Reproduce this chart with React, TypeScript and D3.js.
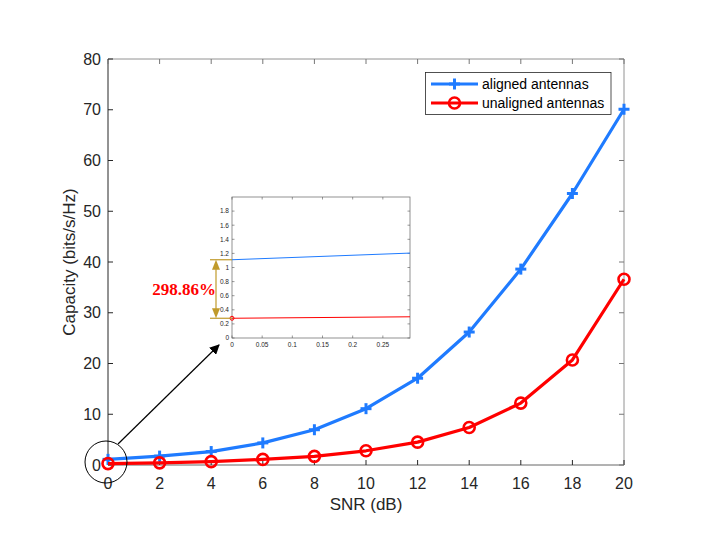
import * as d3 from "d3";

const snr = [0, 2, 4, 6, 8, 10, 12, 14, 16, 18, 20];
const aligned = [1.11, 1.75, 2.65, 4.35, 6.95, 11.1, 17.1, 26.2, 38.6, 53.5, 70.1];
const unaligned = [0.28, 0.42, 0.66, 1.1, 1.7, 2.8, 4.5, 7.4, 12.2, 20.7, 36.6];

const xTicks = [0, 2, 4, 6, 8, 10, 12, 14, 16, 18, 20];
const yTicks = [0, 10, 20, 30, 40, 50, 60, 70, 80];
const insetXTicks = [0, 0.05, 0.1, 0.15, 0.2, 0.25];
const insetYTicks = [0, 0.2, 0.4, 0.6, 0.8, 1, 1.2, 1.4, 1.6, 1.8];
const gainLabel = "298.86%";

const BLUE = "#1f7bff";
const RED = "#ff0000";
const GOLD = "#c09a2a";
const AXIS = "#262626";
const FONT = "'Liberation Sans', Arial, sans-serif";

export default function App() {
  const width = 708;
  const height = 542;
  const m = { left: 108, right: 624, top: 59, bottom: 465 };

  const x = d3.scaleLinear().domain([0, 20]).range([m.left, m.right]);
  const y = d3.scaleLinear().domain([0, 80]).range([m.bottom, m.top]);

  // inset axes
  const ib = { left: 232, right: 410, top: 197, bottom: 338 };
  const ix = d3.scaleLinear().domain([0, 0.295]).range([ib.left, ib.right]);
  const iy = d3.scaleLinear().domain([0, 2]).range([ib.bottom, ib.top]);

  const pts = (vals: number[]) => snr.map((s, i) => [s, vals[i]] as [number, number]);

  const line = d3
    .line<[number, number]>()
    .x((d) => x(d[0]))
    .y((d) => y(d[1]));
  const iline = d3
    .line<[number, number]>()
    .x((d) => ix(d[0]))
    .y((d) => iy(d[1]));

  const tick = 5;
  const itick = 2.5;

  // annotation positions from inset data
  const yA = iy(aligned[0]);
  const yU = iy(unaligned[0]);
  const arrX = 216;

  return (
    <svg
      width={width}
      height={height}
      style={{ position: "absolute", left: 0, top: 0, background: "#fff" }}
      fontFamily={FONT}
    >
      <defs>
        <clipPath id="inset-clip">
          <rect x={ib.left} y={ib.top} width={ib.right - ib.left} height={ib.bottom - ib.top} />
        </clipPath>
        <marker id="blackhead" viewBox="0 0 10 10" refX="9" refY="5" markerWidth="10" markerHeight="10" markerUnits="userSpaceOnUse" orient="auto">
          <path d="M0,0 L10,5 L0,10 z" fill="#000" />
        </marker>
      </defs>

      {/* main plot frame */}
      <rect x={m.left} y={m.top} width={m.right - m.left} height={m.bottom - m.top} fill="#fff" />
      <line x1={m.left} x2={m.right} y1={m.top} y2={m.top} stroke="#777" strokeWidth={0.8} />
      <line x1={m.right} x2={m.right} y1={m.top} y2={m.bottom} stroke="#777" strokeWidth={0.8} />
      <line x1={m.left} x2={m.right} y1={m.bottom} y2={m.bottom} stroke="#666" strokeWidth={1} />
      <line x1={m.left} x2={m.left} y1={m.top} y2={m.bottom} stroke={AXIS} strokeWidth={1} />

      {xTicks.map((t) => (
        <g key={"xt" + t}>
          <line x1={x(t)} x2={x(t)} y1={m.bottom} y2={m.bottom - tick} stroke={AXIS} />
          <line x1={x(t)} x2={x(t)} y1={m.top} y2={m.top + tick} stroke="#777" />
          <text x={x(t)} y={489} textAnchor="middle" fontSize={16} fill={AXIS}>
            {t}
          </text>
        </g>
      ))}
      {yTicks.map((t) => (
        <g key={"yt" + t}>
          <line x1={m.left} x2={m.left + tick} y1={y(t)} y2={y(t)} stroke={AXIS} />
          <line x1={m.right} x2={m.right - tick} y1={y(t)} y2={y(t)} stroke="#777" />
          <text x={101} y={y(t) + 5.6} textAnchor="end" fontSize={16} fill={AXIS}>
            {t}
          </text>
        </g>
      ))}

      <text x={366} y={510} textAnchor="middle" fontSize={17} fill={AXIS}>
        SNR (dB)
      </text>
      <text
        transform={`translate(75,${(m.top + m.bottom) / 2}) rotate(-90)`}
        textAnchor="middle"
        fontSize={17}
        fill={AXIS}
      >
        Capacity (bits/s/Hz)
      </text>

      {/* series */}
      <path d={line(pts(aligned)) ?? ""} fill="none" stroke={BLUE} strokeWidth={3.2} strokeLinejoin="round" />
      {pts(aligned).map((d, i) => (
        <g key={"pa" + i} stroke={BLUE} strokeWidth={3}>
          <line x1={x(d[0]) - 5.5} x2={x(d[0]) + 5.5} y1={y(d[1])} y2={y(d[1])} />
          <line x1={x(d[0])} x2={x(d[0])} y1={y(d[1]) - 5.5} y2={y(d[1]) + 5.5} />
        </g>
      ))}
      <path d={line(pts(unaligned)) ?? ""} fill="none" stroke={RED} strokeWidth={3.2} strokeLinejoin="round" />
      {pts(unaligned).map((d, i) => (
        <circle key={"pu" + i} cx={x(d[0])} cy={y(d[1])} r={5.5} fill="none" stroke={RED} strokeWidth={2.6} />
      ))}

      {/* legend */}
      <rect x={425.5} y={72.5} width={185.5} height={42} fill="#fff" stroke={AXIS} strokeWidth={0.8} />
      <line x1={431} x2={478} y1={84} y2={84} stroke={BLUE} strokeWidth={3.2} />
      <line x1={449} x2={460} y1={84} y2={84} stroke={BLUE} strokeWidth={3} />
      <line x1={454.5} x2={454.5} y1={78.5} y2={89.5} stroke={BLUE} strokeWidth={3} />
      <text x={482} y={89} fontSize={14} fill="#000">
        aligned antennas
      </text>
      <line x1={431} x2={478} y1={103} y2={103} stroke={RED} strokeWidth={3.2} />
      <circle cx={454.5} cy={103} r={5.5} fill="none" stroke={RED} strokeWidth={2.6} />
      <text x={482} y={108} fontSize={14} fill="#000">
        unaligned antennas
      </text>

      {/* zoom circle and arrow */}
      <circle cx={106} cy={462} r={21} fill="none" stroke="#000" strokeWidth={1} />
      <line x1={118} y1={444} x2={219} y2={345} stroke="#000" strokeWidth={1.2} markerEnd="url(#blackhead)" />

      {/* inset */}
      <rect x={ib.left} y={ib.top} width={ib.right - ib.left} height={ib.bottom - ib.top} fill="#fff" stroke="#777" strokeWidth={0.8} />
      {insetXTicks.map((t) => (
        <g key={"ixt" + t}>
          <line x1={ix(t)} x2={ix(t)} y1={ib.bottom} y2={ib.bottom - itick} stroke="#555" strokeWidth={0.6} />
          <line x1={ix(t)} x2={ix(t)} y1={ib.top} y2={ib.top + itick} stroke="#555" strokeWidth={0.6} />
          <text x={ix(t)} y={ib.bottom + 9} textAnchor="middle" fontSize={6.5} fill={AXIS}>
            {t}
          </text>
        </g>
      ))}
      {insetYTicks.map((t) => (
        <g key={"iyt" + t}>
          <line x1={ib.left} x2={ib.left + itick} y1={iy(t)} y2={iy(t)} stroke="#555" strokeWidth={0.6} />
          <line x1={ib.right} x2={ib.right - itick} y1={iy(t)} y2={iy(t)} stroke="#555" strokeWidth={0.6} />
          <text x={ib.left - 3} y={iy(t) + 2.3} textAnchor="end" fontSize={6.5} fill={AXIS}>
            {t}
          </text>
        </g>
      ))}
      <g clipPath="url(#inset-clip)">
        <path d={iline(pts(aligned)) ?? ""} fill="none" stroke={BLUE} strokeWidth={1} />
        <path d={iline(pts(unaligned)) ?? ""} fill="none" stroke={RED} strokeWidth={1} />
      </g>
      <circle cx={ix(0)} cy={iy(unaligned[0])} r={2} fill="none" stroke={RED} strokeWidth={1} />

      {/* gain annotation */}
      <line x1={210} x2={ib.left} y1={yA} y2={yA} stroke={GOLD} strokeWidth={1.2} />
      <line x1={210} x2={ib.left} y1={yU} y2={yU} stroke={GOLD} strokeWidth={1.2} />
      <line x1={arrX} x2={arrX} y1={yA + 8} y2={yU - 8} stroke={GOLD} strokeWidth={1.2} />
      <path d={`M${arrX},${yA} L${arrX - 4},${yA + 10} L${arrX + 4},${yA + 10} z`} fill={GOLD} />
      <path d={`M${arrX},${yU} L${arrX - 4},${yU - 10} L${arrX + 4},${yU - 10} z`} fill={GOLD} />
      <text
        x={184}
        y={(yA + yU) / 2 + 6}
        textAnchor="middle"
        fontSize={17}
        fontWeight="bold"
        fontFamily="'Liberation Serif', 'Times New Roman', serif"
        fill={RED}
      >
        {gainLabel}
      </text>
    </svg>
  );
}
